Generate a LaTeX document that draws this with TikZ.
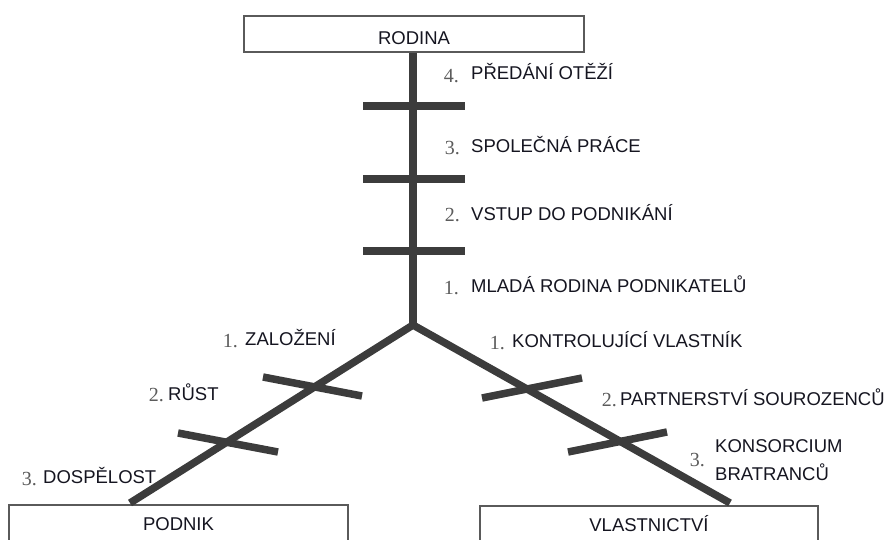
\documentclass[tikz,border=0pt]{standalone}
\usepackage{fontspec}
\setmainfont{Liberation Sans}
\newfontfamily\numfont{Liberation Serif}
\usetikzlibrary{positioning}
\definecolor{barcol}{HTML}{3C3C3C}
\definecolor{boxcol}{HTML}{5A5A5A}
\definecolor{numcol}{HTML}{5C5C5C}
\definecolor{txtcol}{HTML}{151520}
\tikzset{
  stagebox/.style={draw=boxcol, line width=1.3pt, minimum width=340pt, minimum height=36pt,
    inner sep=0pt, text depth=0pt, text=txtcol, font=\fontsize{18.5}{21}\selectfont},
  bar/.style={line width=7.5pt, draw=barcol},
  lbl/.style={inner sep=0pt, anchor=base west, text=txtcol, font=\fontsize{18.5}{21}\selectfont},
  num/.style={inner sep=0pt, anchor=base east, text=numcol, font=\numfont\fontsize{20}{22}\selectfont},
}
\begin{document}
\begin{tikzpicture}[x=1pt,y=-1pt]
\useasboundingbox (0,0) rectangle (886,539);

% boxes
\node[stagebox, text height=20pt] (rodina) at (414,34) {RODINA};
\node[stagebox, minimum width=339pt, text height=14pt] (podnik) at (178.5,523) {PODNIK};
\node[stagebox, minimum width=338pt, text height=14pt] (vlast) at (649,524) {VLASTNICTVÍ};

% trunk and branches
\coordinate (fork) at (413,325);
\coordinate (pend) at (130,503);
\coordinate (vend) at (730,503);
\draw[bar] (rodina.south -| fork) -- (fork);
\draw[bar, line join=round] (pend) -- (fork) -- (vend);

% cross bars
\foreach \y in {106,179,251}
  \draw[bar] (363,\y) -- (465,\y);
\draw[bar] (263,377) -- (362,396);
\draw[bar] (178,433) -- (278,452);
\draw[bar] (482,398) -- (582,378);
\draw[bar] (568,452) -- (667,432);

% family stages
\node[num] (rn4) at (459,82) {4.};
\node[lbl] (rt4) at (471,79) {PŘEDÁNÍ OTĚŽÍ};
\node[num] (rn3) at (460,154) {3.};
\node[lbl] (rt3) at (471,152) {SPOLEČNÁ PRÁCE};
\node[num] (rn2) at (460,221) {2.};
\node[lbl] (rt2) at (471,220) {VSTUP DO PODNIKÁNÍ};
\node[num] (rn1) at (459,294) {1.};
\node[lbl] (rt1) at (471,292) {MLADÁ RODINA PODNIKATELŮ};

% business stages
\node[num] (pn1) at (238,347) {1.};
\node[lbl] (pt1) at (245,345) {ZALOŽENÍ};
\node[num] (pn2) at (164,401) {2.};
\node[lbl] (pt2) at (168,400) {RŮST};
\node[num] (pn3) at (37,485) {3.};
\node[lbl] (pt3) at (43,483) {DOSPĚLOST};

% ownership stages
\node[num] (vn1) at (505,349) {1.};
\node[lbl] (vt1) at (512,347) {KONTROLUJÍCÍ VLASTNÍK};
\node[num] (vn2) at (617,406) {2.};
\node[lbl] (vt2) at (620,405) {PARTNERSTVÍ SOUROZENCŮ};
\node[num] (vn3) at (705,466) {3.};
\node[lbl] (vt3) at (715,452) {KONSORCIUM};
\node[lbl] (vt3b) at (715,480) {BRATRANCŮ};
\end{tikzpicture}
\end{document}
